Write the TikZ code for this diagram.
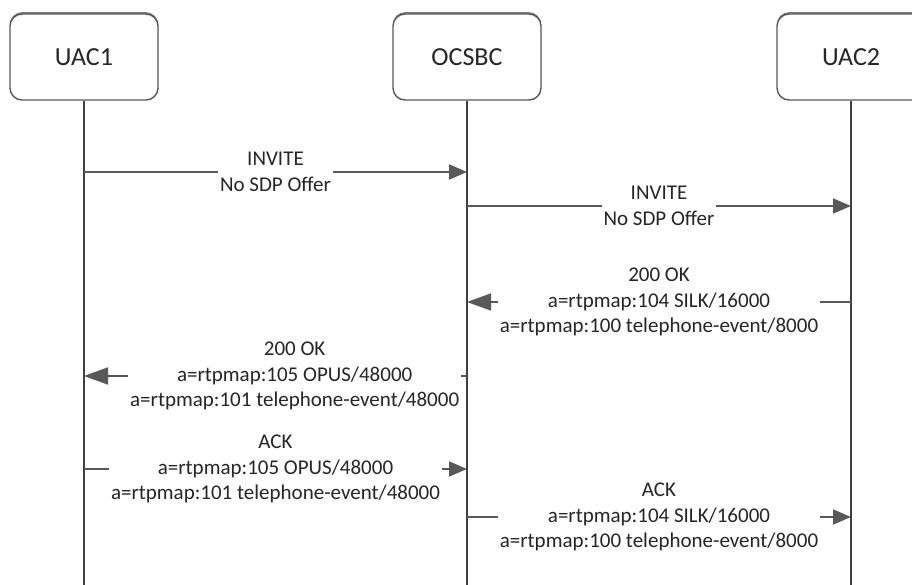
\documentclass[tikz,border=0pt]{standalone}
\usepackage{fontspec}
\setmainfont{Carlito}
\usetikzlibrary{arrows.meta,shadows}
\definecolor{linegray}{HTML}{595959}
\definecolor{lifegray}{HTML}{404040}
\definecolor{txtgray}{HTML}{262626}
\tikzset{
  party/.style={draw=linegray, line width=1.4pt, fill=white, rounded corners=12pt,
    minimum width=148pt, minimum height=86pt, text=txtgray,
    font=\fontsize{26}{30}\selectfont,
    drop shadow={shadow xshift=0pt, shadow yshift=1.8pt, fill=linegray, opacity=0.8}},
  life/.style={draw=lifegray, line width=1.6pt},
  msg/.style={draw=linegray, line width=1.8pt, -{Triangle[length=18pt,width=15pt]}},
  bigmsg/.style={msg, -{Triangle[length=24pt,width=17pt]}},
  lbl/.style={fill=white, inner xsep=2pt, inner ysep=0pt, align=center, text=txtgray,
    font=\fontsize{21}{25.5}\selectfont}
}
\begin{document}
\begin{tikzpicture}[x=1pt, y=-1pt]
  \clip (0,0) rectangle (912,585);
  % Teilnehmer
  \node[party] (uac1)  at (84,57)  {UAC1};
  \node[party] (ocsbc) at (467,57) {OCSBC};
  \node[party] (uac2)  at (851,57) {UAC2};
  % Lebenslinien
  \coordinate (bottom) at (0,590);
  \foreach \n in {uac1,ocsbc,uac2}
    \draw[life] (\n.south) -- (\n.south |- bottom);
  % Hoehen der Nachrichten
  \coordinate (m1) at (0,172);
  \coordinate (m2) at (0,206);
  \coordinate (m3) at (0,302);
  \coordinate (m4) at (0,376);
  \coordinate (m5) at (0,469);
  \coordinate (m6) at (0,517);
  % Nachrichten
  \draw[msg] (uac1 |- m1) -- node[lbl] {INVITE\\No SDP Offer} (ocsbc |- m1);
  \draw[msg] (ocsbc |- m2) -- node[lbl] {INVITE\\No SDP Offer} (uac2 |- m2);
  \draw[bigmsg] (uac2 |- m3) -- node[lbl]
    {200 OK\\a=rtpmap:104 SILK/16000\\a=rtpmap:100 telephone-event/8000} (ocsbc |- m3);
  \draw[bigmsg] (ocsbc |- m4) -- node[lbl, pos=0.45]
    {200 OK\\a=rtpmap:105 OPUS/48000\\a=rtpmap:101 telephone-event/48000} (uac1 |- m4);
  \draw[msg] (uac1 |- m5) -- node[lbl]
    {ACK\\a=rtpmap:105 OPUS/48000\\a=rtpmap:101 telephone-event/48000} (ocsbc |- m5);
  \draw[msg] (ocsbc |- m6) -- node[lbl]
    {ACK\\a=rtpmap:104 SILK/16000\\a=rtpmap:100 telephone-event/8000} (uac2 |- m6);
\end{tikzpicture}
\end{document}
